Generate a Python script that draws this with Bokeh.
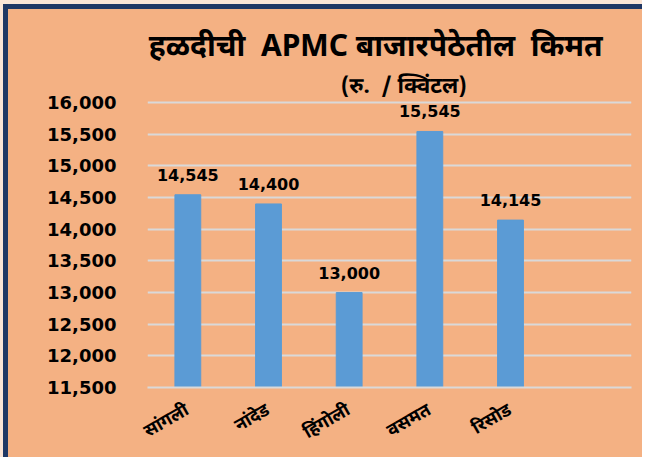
from math import pi
from bokeh.plotting import figure
from bokeh.models import ColumnDataSource, FactorRange, Range1d, LabelSet, Label, FixedTicker, NumeralTickFormatter
from bokeh.core.properties import value
from bokeh.embed import file_html
from bokeh.resources import INLINE

# ---- data ----
markets = ["सांगली", "नांदेड", "हिंगोली", "वसमत", "रिसोड"]
prices = [14545, 14400, 13000, 15545, 14145]
y_ticks = [11500, 12000, 12500, 13000, 13500, 14000, 14500, 15000, 15500, 16000]
title_text = "हळदीची  APMC बाजारपेठेतील  किमत"
subtitle_text = "(रु.  / क्विंटल)"

BG = "#F4B183"
NAVY = "#203864"
EDGE = "#FBE5D6"
GRID = "#D9D9D9"
BAR = "#5B9BD5"
DEVA = "Noto Sans Devanagari, Nirmala UI, Mangal, sans-serif"
NUM = "DejaVu Sans"

def keep_spaces(s):
    # SVG collapses runs of spaces; keep the double gaps visible
    return s.replace("  ", " \u00a0")

factors = markets + [" "]
src = ColumnDataSource(dict(x=markets, y=prices, lbl=[f"{v:,}" for v in prices]))

# frame extends up to the canvas top so the titles can sit inside it
p = figure(width=642, height=457, x_range=FactorRange(*factors, range_padding=0),
           y_range=Range1d(y_ticks[0], 17614),
           output_backend="svg", toolbar_location=None,
           min_border_left=147, min_border_right=11, min_border_top=0, min_border_bottom=69)
p.styles = {"background-color": BG,
            "box-shadow": f"inset 3px 4px 0 0 {EDGE}, inset 8px 9px 0 0 {NAVY}"}
p.background_fill_color = None
p.border_fill_color = None
p.outline_line_color = None

p.vbar(x="x", top="y", bottom=y_ticks[0], width=0.32, color=BAR, source=src)

p.add_layout(LabelSet(x="x", y="y", text="lbl", source=src, text_align="center",
                      text_baseline="alphabetic", y_offset=14,
                      text_font=value(NUM), text_font_style="bold", text_font_size="16px",
                      text_color="black"))

p.xgrid.grid_line_color = None
p.ygrid.grid_line_color = GRID
p.ygrid.grid_line_width = 2
p.yaxis.ticker = FixedTicker(ticks=y_ticks)
p.yaxis.formatter = NumeralTickFormatter(format="0,0")
p.yaxis.axis_line_color = None
p.yaxis.major_tick_line_color = None
p.yaxis.minor_tick_line_color = None
p.yaxis.major_tick_out = 0
p.yaxis.major_label_standoff = 31
p.yaxis.major_label_text_font = NUM
p.yaxis.major_label_text_font_style = "bold"
p.yaxis.major_label_text_font_size = "18px"
p.yaxis.major_label_text_color = "black"

p.xaxis.axis_line_color = GRID
p.xaxis.axis_line_width = 2
p.xaxis.major_tick_line_color = None
p.xaxis.minor_tick_line_color = None
p.xaxis.major_tick_out = 0
p.xaxis.major_label_orientation = pi / 6
p.xaxis.major_label_standoff = 22
p.xaxis.major_label_text_font = DEVA
p.xaxis.major_label_text_font_style = "bold"
p.xaxis.major_label_text_font_size = "18px"
p.xaxis.major_label_text_color = "black"

p.add_layout(Label(x=0.016, y=16858, text=keep_spaces(title_text), text_align="left",
                   text_baseline="alphabetic",
                   text_font=DEVA, text_font_style="bold", text_font_size="30px",
                   text_color="black"))
p.add_layout(Label(x=3.177, y=16243, text=keep_spaces(subtitle_text), text_align="center",
                   text_baseline="alphabetic",
                   text_font=DEVA, text_font_style="bold", text_font_size="22px",
                   text_color="black"))

open("out.html", "w").write(file_html(p, INLINE))
